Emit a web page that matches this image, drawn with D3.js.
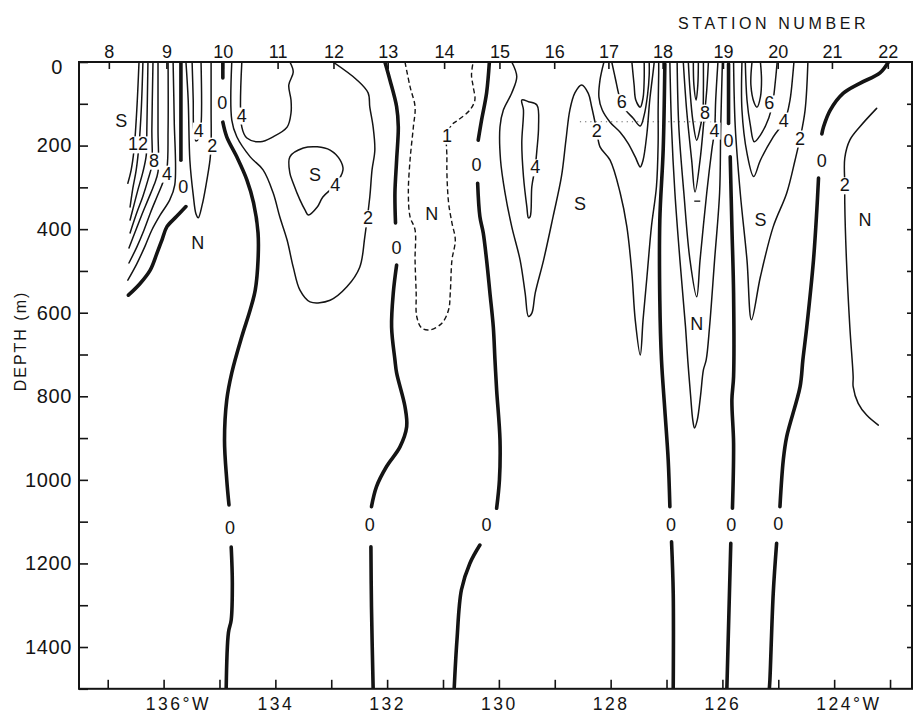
<!DOCTYPE html>
<html><head><meta charset="utf-8">
<script src="https://cdn.jsdelivr.net/npm/d3@7"></script>
<style>
body{margin:0;background:#fff;}
svg{display:block;font-family:"Liberation Sans",Arial,sans-serif;}
</style></head><body>
<svg id="chart" width="913" height="715"></svg>
<script>
// ---------- axis data ----------
const stationNumbers=[8,9,10,11,12,13,14,15,16,17,18,19,20,21,22];
const stationLons=[136.98,135.95,134.94,133.96,132.96,131.99,130.98,129.99,129.01,128.04,127.07,125.99,125.01,124.04,123.04];
const lonTicks=[137,136,135,134,133,132,131,130,129,128,127,126,125,124,123];
const lonTickLabels=["","136°W","","134","","132","","130","","128","","126","","124°W",""];
const depthTicks=[0,100,200,300,400,500,600,700,800,900,1000,1100,1200,1300,1400,1500];
const depthTickLabels=["0","","200","","400","","600","","800","","1000","","1200","","1400",""];
const rightTicks=[100,200,300,400,500,600,700,800,900,1000,1100,1200,1300,1400];

// ---------- contour lines [lon °W, depth m] ----------
// southward (S) contours near stations 8-9
const s14a=[[136.44,0],[136.48,115],[136.53,211],[136.58,258],[136.64,290]];
const s12a=[[136.37,0],[136.40,115],[136.44,199],[136.49,258],[136.55,302],[136.60,347]];
const s10a=[[136.28,0],[136.30,163],[136.31,223],[136.37,263],[136.46,306],[136.53,342],[136.60,378]];
const s8a=[[136.19,0],[136.21,163],[136.21,246],[136.28,282],[136.37,321],[136.48,361],[136.60,409]];
const s6a=[[136.10,0],[136.10,163],[136.10,263],[136.17,294],[136.28,330],[136.40,369],[136.51,407],[136.62,445]];
const s4a=[[135.92,0],[135.92,163],[135.94,254],[136.01,287],[136.12,323],[136.23,359],[136.35,402],[136.48,443],[136.62,481]];
const s2a=[[135.83,0],[135.81,139],[135.80,294],[135.89,330],[136.06,366],[136.21,402],[136.33,440],[136.48,483],[136.64,522]];
// northward near stations 9-10
const n2a=[[135.60,0],[135.56,91],[135.53,235],[135.47,318],[135.42,364],[135.38,373],[135.31,342],[135.24,294],[135.17,235],[135.15,199],[135.15,115],[135.15,0]];
const n4a=[[135.49,0],[135.47,91],[135.46,163],[135.42,189],[135.37,182],[135.33,151],[135.33,0]];
// S region stations 10-13
const s2b=[[134.78,0],[134.78,139],[134.69,179],[134.45,227],[134.22,258],[134.04,313],[133.92,371],[133.79,426],[133.68,491],[133.56,546],[133.38,574],[133.02,570],[132.72,538],[132.49,491],[132.40,419],[132.31,323],[132.27,258],[132.22,211],[132.25,156],[132.31,108],[132.34,74],[132.54,43],[132.97,0]];
const s4b=[[134.60,0],[134.60,156],[134.51,182],[134.27,191],[134.04,179],[133.79,156],[133.72,122],[133.72,91],[133.76,55],[133.68,24],[133.74,0]];
const s4cLoop=[[133.74,227],[133.50,206],[133.25,203],[133.02,211],[132.84,235],[132.79,258],[132.93,294],[133.15,323],[133.25,347],[133.41,366],[133.47,354],[133.56,330],[133.68,290],[133.74,266]];
// N region stations 13-15 (dashed 1)
const n1Dashed=[[131.68,0],[131.59,59],[131.50,107],[131.53,155],[131.59,235],[131.62,313],[131.59,370],[131.50,402],[131.50,474],[131.48,553],[131.47,609],[131.38,637],[131.23,641],[131.02,625],[130.90,593],[130.87,553],[130.84,474],[130.78,426],[130.84,385],[130.90,337],[130.93,266],[130.93,227],[130.93,175],[130.84,150],[130.73,139],[130.52,115],[130.43,91],[130.46,59],[130.49,31],[130.46,0]];
// S region stations 15-18
const s4dLoop=[[129.59,91],[129.47,95],[129.32,103],[129.29,155],[129.32,211],[129.35,251],[129.41,298],[129.44,370],[129.47,373],[129.50,346],[129.56,274],[129.59,194],[129.56,115]];
const s2c=[[129.77,0],[129.68,35],[129.77,74],[129.92,115],[129.98,155],[129.97,235],[129.89,313],[129.77,394],[129.62,474],[129.53,553],[129.47,609],[129.41,601],[129.35,553],[129.20,474],[129.03,370],[128.88,274],[128.80,187],[128.73,115],[128.64,74],[128.52,55],[128.40,75],[128.34,107],[128.25,163],[128.19,203],[128.01,235],[127.83,313],[127.71,394],[127.62,505],[127.56,617],[127.47,701],[127.42,617],[127.35,514],[127.27,394],[127.18,298],[127.15,194],[127.15,115],[127.14,26],[127.14,0]];
const s4e=[[128.12,0],[128.19,43],[128.21,84],[128.15,115],[128.01,144],[127.83,168],[127.69,194],[127.56,227],[127.47,251],[127.42,235],[127.35,170],[127.30,91],[127.24,24],[127.22,0]];
const s6e=[[127.98,0],[127.91,43],[127.85,79],[127.80,95],[127.73,115],[127.60,134],[127.47,153],[127.40,127],[127.34,79],[127.31,31],[127.31,0]];
const s8e=[[127.62,0],[127.58,55],[127.55,91],[127.47,108],[127.42,86],[127.40,43],[127.40,0]];
// N region stations 18-19
const n2f=[[126.94,0],[126.91,156],[126.85,313],[126.76,474],[126.66,634],[126.62,713],[126.57,797],[126.53,857],[126.50,876],[126.45,857],[126.39,797],[126.34,737],[126.29,713],[126.23,634],[126.14,474],[126.05,313],[126.03,156],[126.00,0]];
const n4f=[[126.81,0],[126.78,155],[126.69,313],[126.58,474],[126.46,562],[126.40,474],[126.28,313],[126.19,211],[126.14,163],[126.12,91],[126.08,0]];
const n6f=[[126.70,0],[126.64,115],[126.55,235],[126.49,311],[126.40,235],[126.33,139],[126.28,67],[126.25,0]];
const n8f=[[126.61,0],[126.58,67],[126.53,139],[126.46,187],[126.40,158],[126.35,120],[126.34,67],[126.34,0]];
const n10f=[[126.52,0],[126.51,55],[126.47,91],[126.44,55],[126.43,0]];
// S region stations 19-21
const s2g=[[125.80,0],[125.77,155],[125.68,314],[125.56,474],[125.48,617],[125.32,514],[125.09,394],[124.85,314],[124.70,235],[124.61,183],[124.52,115],[124.47,0]];
const s4g=[[125.65,0],[125.65,115],[125.56,218],[125.44,274],[125.32,235],[125.09,179],[124.88,139],[124.79,91],[124.74,31],[124.72,0]];
const s6g=[[125.59,0],[125.56,91],[125.50,151],[125.43,191],[125.32,175],[125.17,134],[125.10,98],[125.05,43],[125.02,0]];
const s8g=[[125.47,0],[125.49,55],[125.43,98],[125.38,108],[125.32,84],[125.30,43],[125.32,0]];
// N region east of station 21
const n2h=[[123.24,111],[123.54,155],[123.72,187],[123.81,230],[123.81,294],[123.81,338],[123.78,474],[123.72,633],[123.66,753],[123.66,777],[123.57,817],[123.42,845],[123.21,869]];
// zero lines (thick), split where labelled
const z9a=[[135.69,0],[135.69,235]];
const z9b=[[135.60,346],[135.77,370],[135.94,394],[136.03,426],[136.12,458],[136.24,498],[136.42,530],[136.63,558]];
const z10a=[[134.94,0],[134.94,38]];
const z10b=[[134.94,144],[134.87,179],[134.69,227],[134.51,282],[134.39,337],[134.31,409],[134.31,474],[134.36,546],[134.45,593],[134.60,657],[134.78,744],[134.87,809],[134.91,905],[134.87,1000],[134.83,1060]];
const z10c=[[134.79,1161],[134.77,1247],[134.79,1335],[134.84,1366],[134.88,1500]];
const z13a=[[132.04,0],[131.95,43],[131.83,107],[131.80,155],[131.83,235],[131.86,313],[131.85,385]];
const z13b=[[131.83,486],[131.89,553],[131.92,634],[131.86,713],[131.83,744],[131.68,825],[131.65,873],[131.77,921],[132.01,968],[132.19,1016],[132.28,1064]];
const z13c=[[132.29,1160],[132.28,1303],[132.25,1500]];
const z15a=[[130.17,0],[130.22,74],[130.31,139],[130.37,187]];
const z15b=[[130.38,290],[130.34,370],[130.28,409],[130.22,474],[130.16,553],[130.10,634],[130.07,713],[130.04,785],[129.98,905],[129.99,1000],[130.04,1068]];
const z15c=[[130.34,1156],[130.52,1200],[130.67,1263],[130.75,1383],[130.80,1500]];
const z18a=[[127.03,5],[127.06,211],[127.12,378],[127.12,570],[127.09,713],[127.03,833],[126.97,952],[126.94,1064]];
const z18b=[[126.91,1148],[126.88,1271],[126.88,1500]];
const z19a=[[125.89,5],[125.89,147]];
const z19b=[[125.86,227],[125.83,394],[125.80,553],[125.80,753],[125.83,809],[125.80,912],[125.82,1068]];
const z19c=[[125.85,1152],[125.89,1351],[125.92,1500]];
const z21a=[[123.03,0],[123.18,26],[123.54,51],[123.84,75],[124.07,115],[124.19,155],[124.22,172]];
const z21b=[[124.28,278],[124.31,354],[124.37,474],[124.49,634],[124.56,713],[124.61,777],[124.85,897],[124.91,952],[124.97,1064]];
const z21c=[[125.03,1152],[125.09,1271],[125.15,1479],[125.16,1500]];
// faint dotted reference trace
const dottedTrace=[[128.55,143],[126.05,143]];

// ---------- labels ----------
const zeroLabels=[[135.65,299],[134.95,98],[134.81,1113],[131.83,443],[132.31,1108],[130.40,246],[130.22,1108],[126.92,1108],[125.89,187],[125.84,1108],[124.22,235],[125.00,1104]];
const valueLabels=[[136.46,196,"12"],[136.17,235,"8"],[135.94,266,"4"],[135.37,163,"4"],[135.13,199,"2"],[134.60,127,"4"],[132.93,294,"4"],[132.34,373,"2"],[130.93,175,"1"],[129.35,251,"4"],[128.25,163,"2"],[127.80,95,"6"],[126.31,120,"8"],[126.14,163,"4"],[125.16,98,"6"],[124.90,139,"4"],[124.61,182,"2"],[123.81,294,"2"]];
const flowLabels=[[136.76,139,"S"],[135.39,431,"N"],[133.29,270,"S"],[131.20,362,"N"],[128.55,338,"S"],[126.46,625,"N"],[125.32,378,"S"],[123.45,378,"N"]];
const smallMarks=[[126.45,333]];

// ---------- chart ----------
const svg=d3.select("#chart");
const P={left:79,right:912,top:62,bottom:688.8};
const x=d3.scaleLinear().domain([137.514,122.607]).range([P.left,P.right]);
const y=d3.scaleLinear().domain([0,1500]).range([P.top,P.bottom]);
const ink="#141414";

svg.append("rect").attr("width",913).attr("height",715).attr("fill","#fff");
svg.append("clipPath").attr("id","pc").append("rect")
  .attr("x",P.left).attr("y",P.top).attr("width",P.right-P.left).attr("height",P.bottom-P.top);

const thin=[s14a,s12a,s10a,s8a,s6a,s4a,s2a,n2a,n4a,s2b,s4b,s2c,s4e,s6e,s8e,n2f,n4f,n6f,n8f,n10f,s2g,s4g,s6g,s8g,n2h];
const loops=[s4cLoop,s4dLoop];
const dashed=[n1Dashed];
const zero=[z9a,z9b,z10a,z10b,z10c,z13a,z13b,z13c,z15a,z15b,z15c,z18a,z18b,z19a,z19b,z19c,z21a,z21b,z21c];

const open=d3.line().x(d=>x(d[0])).y(d=>y(d[1])).curve(d3.curveCatmullRom.alpha(0.5));
const closed=d3.line().x(d=>x(d[0])).y(d=>y(d[1])).curve(d3.curveCatmullRomClosed.alpha(0.5));

svg.append("path").datum(dottedTrace).attr("d",d3.line().x(d=>x(d[0])).y(d=>y(d[1])))
  .attr("fill","none").attr("stroke","#666").attr("stroke-width",1).attr("stroke-dasharray","1.2,4");

const cg=svg.append("g").attr("clip-path","url(#pc)").attr("fill","none").attr("stroke",ink).attr("stroke-linecap","round").attr("stroke-linejoin","round");
cg.selectAll("path.thin").data(thin).join("path").attr("class","thin").attr("d",open).attr("stroke-width",1.5);
cg.selectAll("path.loop").data(loops).join("path").attr("class","loop").attr("d",closed).attr("stroke-width",1.5);
cg.selectAll("path.dash").data(dashed).join("path").attr("class","dash").attr("d",open).attr("stroke-width",1.4).attr("stroke-dasharray","5,3").attr("stroke-linecap","butt");
cg.selectAll("path.zero").data(zero).join("path").attr("class","zero").attr("d",open).attr("stroke-width",3.6);

// value labels with white gap
const lg=svg.append("g").attr("font-size",18).attr("fill",ink);
valueLabels.forEach(d=>{
  const g=lg.append("g");
  const r=g.append("rect").attr("fill","#fff");
  const t=g.append("text").attr("x",x(d[0])).attr("y",y(d[1])).attr("dy","0.36em").attr("text-anchor","middle").text(d[2]);
  const b=t.node().getBBox();
  r.attr("x",b.x-1).attr("y",b.y+2).attr("width",b.width+2).attr("height",b.height-3);
});
lg.selectAll("text.z").data(zeroLabels).join("text").attr("class","z")
  .attr("x",d=>x(d[0])).attr("y",d=>y(d[1])).attr("dy","0.36em").attr("text-anchor","middle").text("0");
lg.selectAll("text.f").data(flowLabels).join("text").attr("class","f")
  .attr("x",d=>x(d[0])).attr("y",d=>y(d[1])).attr("dy","0.36em").attr("text-anchor","middle").text(d=>d[2]);
svg.selectAll("line.mark").data(smallMarks).join("line").attr("class","mark")
  .attr("x1",d=>x(d[0])-3).attr("x2",d=>x(d[0])+3).attr("y1",d=>y(d[1])).attr("y2",d=>y(d[1]))
  .attr("stroke",ink).attr("stroke-width",1.3);

// frame
svg.append("rect").attr("x",P.left).attr("y",P.top).attr("width",P.right-P.left).attr("height",P.bottom-P.top)
  .attr("fill","none").attr("stroke",ink).attr("stroke-width",2);

// bottom axis (longitude)
const xb=svg.append("g").attr("transform",`translate(0,${P.bottom})`)
  .call(d3.axisBottom(x).tickValues(lonTicks).tickSize(-9).tickSizeOuter(0).tickPadding(9)
  .tickFormat((d,i)=>lonTickLabels[i]));
xb.select(".domain").remove();
xb.selectAll(".tick line").attr("stroke",ink).attr("stroke-width",1.6);
xb.selectAll(".tick text").attr("font-size",17.5).attr("font-family","Liberation Sans").attr("letter-spacing","2.5px").attr("fill",ink)
  .each(function(){
    const t=d3.select(this); const s=t.text();
    if(s.indexOf("°")>=0){
      const num=s.replace("°W","");
      t.text(null).attr("text-anchor","start");
      const a=t.append("tspan").text(num);
      t.append("tspan").text("°W");
      const w=a.node().getComputedTextLength();
      t.attr("x",-w/2);
    }
  });

// top axis (station numbers)
const xt=svg.append("g").attr("transform",`translate(0,${P.top})`)
  .call(d3.axisTop(x).tickValues(stationLons).tickSize(-7).tickSizeOuter(0).tickPadding(4)
  .tickFormat((d,i)=>stationNumbers[i]));
xt.select(".domain").remove();
xt.selectAll(".tick line").attr("stroke",ink).attr("stroke-width",1.6);
xt.selectAll(".tick text").attr("font-size",18).attr("font-family","Liberation Sans").attr("fill",ink);
svg.append("text").attr("x",678).attr("y",28.5).attr("font-size",16).attr("letter-spacing","3.6px").attr("fill",ink).text("STATION NUMBER");

// left axis (depth)
const yl=svg.append("g").attr("transform",`translate(${P.left},0)`)
  .call(d3.axisLeft(y).tickValues(depthTicks).tickSize(-9).tickSizeOuter(0).tickPadding(7)
  .tickFormat((d,i)=>depthTickLabels[i]));
yl.select(".domain").remove();
yl.selectAll(".tick line").attr("stroke",ink).attr("stroke-width",1.6);
yl.selectAll(".tick text").attr("font-size",20).attr("font-family","Liberation Sans").attr("letter-spacing","0.6px").attr("fill",ink);
yl.selectAll(".tick text").filter(d=>d===0).attr("x",-16).attr("dy","0.55em");

// right axis minor ticks
const yr=svg.append("g").attr("transform",`translate(${P.right},0)`)
  .call(d3.axisRight(y).tickValues(rightTicks).tickSize(-5).tickSizeOuter(0).tickFormat(""));
yr.select(".domain").remove();
yr.selectAll(".tick line").attr("stroke",ink).attr("stroke-width",1.6);

svg.append("text").attr("transform","translate(26,341) rotate(-90)").attr("text-anchor","middle")
  .attr("font-size",16).attr("letter-spacing","2px").attr("fill",ink).text("DEPTH (m)");
</script>
</body></html>
